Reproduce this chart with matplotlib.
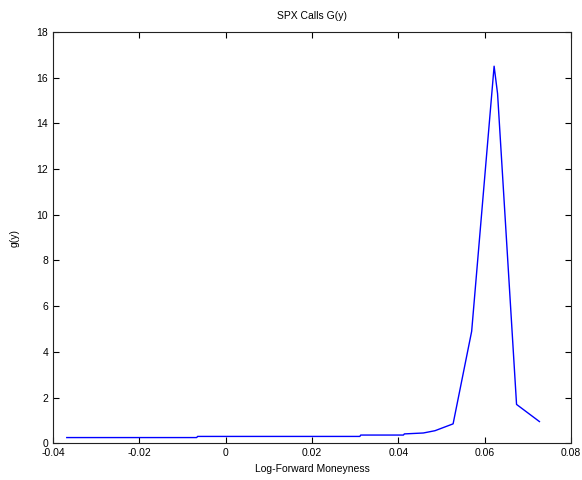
import matplotlib
matplotlib.use("Agg")
import matplotlib.pyplot as plt
import numpy as np

plt.rcParams['font.family'] = ['Liberation Sans', 'DejaVu Sans']

# values
y_money = [-0.0368, -0.0067, -0.0065, 0.0311, 0.0313, 0.0412, 0.0414, 0.0458,
           0.0485, 0.0527, 0.0570, 0.0622, 0.0630, 0.0674, 0.0727]
g_vals = [0.25, 0.25, 0.30, 0.30, 0.36, 0.36, 0.41, 0.45,
          0.55, 0.85, 4.9, 16.5, 15.3, 1.7, 0.95]

fig = plt.figure(figsize=(5.82, 4.8), dpi=100)
ax = fig.add_axes([0.091, 0.0765, 0.89, 0.857])
ax.plot(y_money, g_vals, color='#0000ff', linewidth=1.0)

ax.set_xlim(-0.04, 0.08)
ax.set_ylim(0, 18)
ax.set_xticks(np.arange(-0.04, 0.0801, 0.02))
ax.set_xticklabels(['-0.04', '-0.02', '0', '0.02', '0.04', '0.06', '0.08'])
ax.set_yticks(range(0, 19, 2))
ax.tick_params(direction='in', top=True, right=True, length=4, labelsize=7.5, width=0.8)
for s in ax.spines.values():
    s.set_linewidth(0.8)
    s.set_color('#222222')

ax.set_xlabel("Log-Forward Moneyness", fontsize=7.5, labelpad=4)
ax.set_ylabel("g(y)", fontsize=7.5, labelpad=12)
ax.set_title("SPX Calls G(y)", fontsize=7.5, pad=9)

fig.savefig("out.png", dpi=100)
